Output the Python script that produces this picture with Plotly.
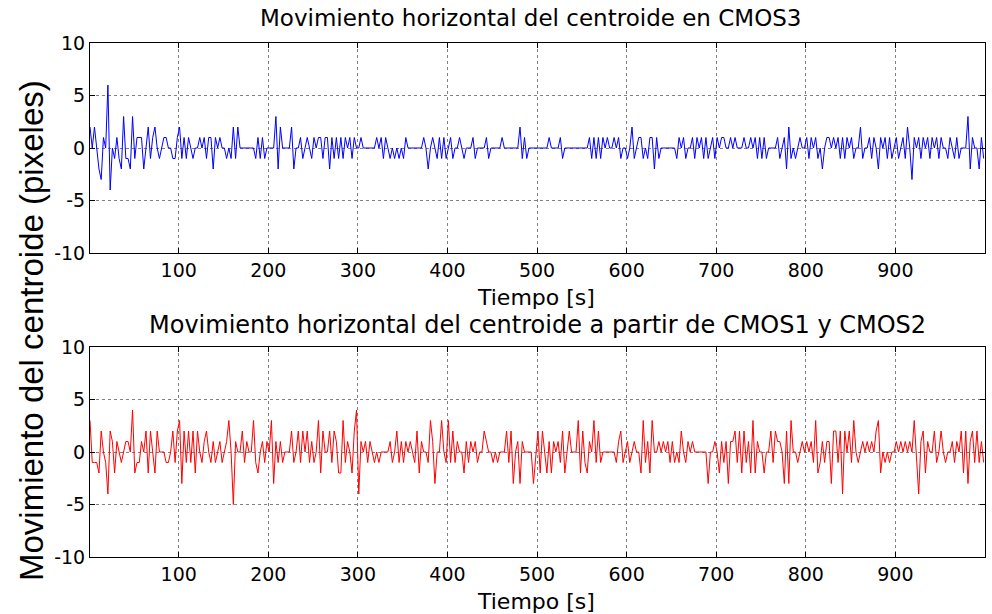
import numpy as np
import plotly.graph_objects as go

# muestras cada 2.5 s, 400 muestras (valores enteros en pixeles)
tiempo = np.linspace(1, 998.5, 400)

cmos3 = [
    2, 0, 2, 0, -2, -3, 1, 0, 6, -4, 0, -1, 1, -1, -2, 3, -1, -1, -2, 3, -1, 1, 1, 1, -2, 0, 2, -1, 1, 2, 0, -1, 0, 1, 1, 0, 0, -1, -1, 1,
    2, -1, 1, -1, 1, 0, -1, 0, 0, 1, 0, 1, -1, 1, 1, -2, 1, 0, 1, 0, 0, -1, 0, -1, 2, -1, 2, 0, 0, 0, 0, 0, 0, 0, -1, 1, -1, 1, -1, 0,
    0, 0, 0, 3, -2, 2, 0, 0, 0, 0, 2, -2, 0, 0, 1, -1, 0, 1, 0, -1, 1, 0, 1, 1, -1, 1, 1, -2, 1, -1, 1, -1, 1, -1, 1, 0, 1, -1, 1, 0,
    0, 1, 0, 0, 0, 0, 0, 0, 1, 0, 1, -1, 1, 0, -1, 0, -1, 0, -1, 0, -1, 1, 0, 0, 0, 0, 0, 0, 0, 1, 0, -2, 0, 1, 0, -1, 1, -1, 1, -1,
    0, 1, -1, 0, 0, 1, 0, -1, 0, 0, 0, 1, -1, 0, 0, 0, 0, 1, -1, 0, 0, 0, 0, 0, 1, 0, 0, 0, 0, 0, 0, 0, 2, -1, 1, -1, 0, 0, 0, 0,
    0, 0, 0, 0, 0, 1, 0, 0, 0, 0, 1, -1, 0, 0, 0, 0, 0, 0, 0, 0, 0, 0, 0, 1, -1, 1, -1, 1, -1, 1, 0, 1, 0, 0, 1, 0, 1, -1, 0, 0,
    -1, 0, 2, -1, 0, 1, 1, -1, 0, -1, 1, 1, -2, 1, -1, 0, 0, 0, 0, 0, 0, 0, -1, 1, 0, 1, -1, 0, 0, 1, -1, 1, 0, 1, -1, 1, -1, 0, 1, -1,
    1, 0, 1, 1, 0, 0, 1, 0, 1, 0, 0, 0, 1, 0, 0, 1, 0, 1, -1, 1, -1, 1, -1, 0, 0, 0, 0, 1, -1, 0, 1, -2, 2, -1, 0, -1, 0, 1, 0, 0,
    1, -1, 1, 0, 1, -1, 0, -2, 0, 1, 1, 0, 1, 0, 1, -1, 1, -1, 1, 0, 1, -1, 0, 0, 2, -1, 0, 0, 1, -1, 1, 0, -2, 1, 0, 1, -1, 1, -1, 0,
    1, -1, 0, 1, -1, 2, 0, -3, 1, 0, 1, -1, 1, 0, 1, -1, 1, 0, 1, -1, 1, 0, 0, -1, 1, 0, -1, 1, -1, 0, 0, 0, 3, -2, 1, 0, 0, -2, 1, -1,
]

cmos12 = [
    3, -1, -1, -1, -2, 2, 0, -1, -4, 2, 1, -2, 1, 0, -1, 0, 1, 1, 0, 4, -2, -1, -1, 1, 0, 2, -2, 2, 0, -2, 2, 0, 0, 0, -1, -1, 0, 2, -1, 2,
    3, -3, 2, -1, 2, -1, 2, -2, 2, 0, -1, 1, 2, 0, -1, 1, -1, 0, 1, -1, 0, 1, 3, 0, -5, 1, 0, 0, 2, -1, 1, 0, 0, 3, -1, -2, 0, 1, -1, 1,
    0, 3, -3, 1, -1, 1, -1, 0, 0, 0, 2, -1, 0, 2, -1, 2, 0, 2, -1, 1, -1, 0, 3, -2, 2, 0, 0, 2, -1, 2, 1, -2, -2, 3, -1, 1, 0, -2, 2, 4,
    -4, 1, 0, 1, -1, 1, 0, -1, 0, -1, 0, 0, 0, 0, 1, -1, 0, 2, -1, 1, -1, 1, 0, 1, 0, -1, 2, -2, 1, 0, 0, -1, 3, 1, -3, 0, 0, 3, 0, -1,
    3, -1, 2, -1, 1, 0, 0, -2, 1, -1, 1, 0, 1, -1, 0, 0, 2, 1, 0, 0, -1, 0, -1, 0, 0, 0, 2, -1, 2, -3, 0, 1, -3, 1, 0, 0, 0, 0, -3, 0,
    2, -2, 2, 0, -2, 1, -2, 1, 0, 1, -1, 2, -2, 0, 2, 0, 0, 0, 3, -2, 2, -1, -2, 1, 0, 3, -1, 2, -1, 0, 0, 0, 0, 0, 0, -1, 1, 2, -1, 0,
    1, -1, 0, 1, 0, 0, -2, 3, -1, 1, -2, 3, 0, 0, 1, 0, 1, 0, 1, -1, 1, -1, 0, -1, 2, 0, -1, 1, 0, 1, 0, 0, 0, 0, 0, 0, -3, 0, 0, 1,
    0, -2, 1, -1, 1, -3, 1, 1, 2, -1, 2, -2, 2, -1, 1, -2, 3, -2, 1, 0, 0, -2, 0, 0, 2, -1, 2, 1, 1, 0, -3, 2, -3, 3, 0, 0, -1, 0, 1, 0,
    1, 0, 1, -1, 3, -2, -1, 1, -1, 1, 1, -3, 2, 2, -1, 2, -4, 2, 0, 2, -1, 3, 0, -1, 0, 1, 0, 1, 0, 1, 0, 2, 3, -2, 0, -1, 0, -1, 0, 0,
    1, 0, 1, 0, 1, 0, 1, 0, 3, 0, -4, 1, 2, -2, 1, 0, 0, 2, -1, 0, 2, 0, -1, 0, 0, 1, -1, 1, 0, 2, -2, 2, -3, 1, 2, -1, 2, -1, 1, -1,
]

xticks = [100, 200, 300, 400, 500, 600, 700, 800, 900]
yticks = [-10, -5, 0, 5, 10]
yticklabels = ['-10', '-5', '0', '5', '10']

W, H = 992, 614
fig = go.Figure()
fig.add_trace(go.Scatter(x=tiempo, y=cmos3, mode='lines',
                         line=dict(color='#0000ff', width=1), xaxis='x', yaxis='y'))
fig.add_trace(go.Scatter(x=tiempo, y=cmos12, mode='lines',
                         line=dict(color='#ff0000', width=1), xaxis='x2', yaxis='y2'))

font = "DejaVu Sans, Liberation Sans, Arial, sans-serif"
ax = dict(showline=True, linecolor='black', linewidth=1, mirror='ticks',
          ticks='inside', ticklen=5, tickcolor='black',
          showgrid=True, gridcolor='#808080', griddash='dot', gridwidth=1,
          zeroline=False, tickfont=dict(family=font, size=19, color='black'))

dom_x = [90 / W, 985 / W]
fig.update_layout(
    width=W, height=H,
    margin=dict(l=0, r=0, t=0, b=0, autoexpand=False),
    paper_bgcolor='white', plot_bgcolor='white',
    showlegend=False,
    xaxis=dict(ax, domain=dom_x, range=[1, 1000], tickvals=xticks, anchor='y'),
    yaxis=dict(ax, domain=[1 - 253 / H, 1 - 43 / H], range=[-10, 10],
               tickvals=yticks, ticktext=yticklabels, anchor='x'),
    xaxis2=dict(ax, domain=dom_x, range=[1, 1000], tickvals=xticks, anchor='y2'),
    yaxis2=dict(ax, domain=[1 - 557 / H, 1 - 347 / H], range=[-10, 10],
                tickvals=yticks, ticktext=yticklabels, anchor='x2'),
)

def texto(s, x, y, size, rot=0, fam=font):
    fig.add_annotation(text=s, x=x / W, y=1 - y / H, xref='paper', yref='paper',
                       showarrow=False, textangle=rot, xanchor='center', yanchor='middle',
                       font=dict(family=fam, size=size, color='black'))

texto("Movimiento horizontal del centroide en CMOS3", 530, 18, 23)
texto("Movimiento horizontal del centroide a partir de CMOS1 y CMOS2", 537, 325, 24)
texto("Tiempo [s]", 536, 297, 22)
texto("Tiempo [s]", 536, 601, 22)
texto("Movimiento del centroide (pixeles)", 31, 331, 33, rot=-90,
      fam="Liberation Sans, Arial, sans-serif")

fig.write_html("out.html", config={'displayModeBar': False},
               post_script="document.body.style.margin='0';document.body.style.overflow='hidden';")
